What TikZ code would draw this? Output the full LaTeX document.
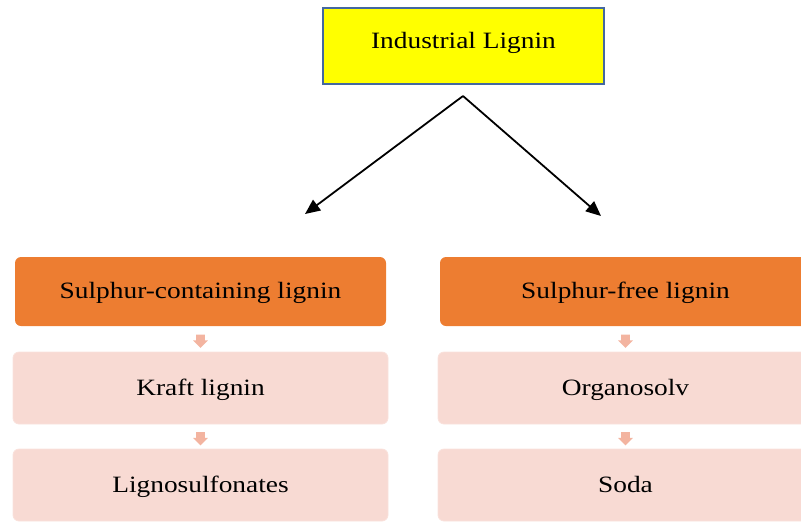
\documentclass[tikz,border=0pt]{standalone}
\usepackage{fontspec}
\setmainfont{Liberation Serif}[FakeStretch=1.17]
\usepackage{xcolor}
\usetikzlibrary{
    shapes.arrows,
    arrows.meta,
    positioning,
    calc
}
\definecolor{lignyellow}{RGB}{255, 255, 0}
\definecolor{lignborder}{RGB}{68, 104, 160}
\definecolor{lignorange}{RGB}{237, 125, 49}
\definecolor{lignpink}{RGB}{248, 218, 211}
\definecolor{lignpinkedge}{RGB}{250, 226, 220}
\definecolor{lignarrow}{RGB}{243, 180, 160}

\begin{document}
\begin{tikzpicture}[x=0.5pt, y=-0.5pt,
                topbox/.style={draw=lignborder, line width=1pt, fill=lignyellow, minimum width=140.5pt, minimum height=38pt, align=center, text height=8pt, text depth=6pt, font=\fontsize{11.7}{14}\selectfont},
                mainbox/.style={fill=lignorange, rounded corners=3pt, minimum width=185.5pt, minimum height=34.5pt, align=center, text height=8pt, text depth=1pt, font=\fontsize{11.7}{14}\selectfont},
                subbox/.style={draw=lignpinkedge, fill=lignpink, rounded corners=3pt, minimum width=187.5pt, minimum height=36pt, align=center, text height=8pt, text depth=1pt, font=\fontsize{11.7}{14}\selectfont},
                blockarrow/.style={single arrow, fill=lignarrow, draw=none, shape border rotate=270, minimum height=6.5pt, inner sep=2pt, single arrow head extend=1.5pt},
                arrow/.style={-{Triangle[length=7.5pt, width=6.5pt]}, line width=0.9pt}
            ]
                \useasboundingbox (0,0) rectangle (801,521);
                \clip (0,0) rectangle (801,521);

                % Top
                \node[topbox] (ind) at (463.5, 46) {Industrial Lignin};
                \coordinate (split) at (463, 96);
                \coordinate (leftend) at (305, 214);
                \coordinate (rightend) at (601, 216);

                \draw[arrow] (split) -- (leftend);
                \draw[arrow] (split) -- (rightend);

                % Left column
                \node[mainbox] (scont) at (200.5, 291.5) {Sulphur-containing lignin};
                \node[subbox] (kraft) at (200.5, 388) {Kraft lignin};
                \node[subbox] (lsulf) at (200.5, 485) {Lignosulfonates};

                % Right column
                \node[mainbox] (sfree) at (625.5, 291.5) {Sulphur-free lignin};
                \node[subbox] (orgs) at (625.5, 388) {Organosolv};
                \node[subbox] (soda) at (625.5, 485) {Soda};

                % Small arrows
                \node[blockarrow] (a1) at ($(scont.south)!0.5!(kraft.north)$) {};
                \node[blockarrow] (a2) at ($(kraft.south)!0.5!(lsulf.north)$) {};
                \node[blockarrow] (a3) at ($(sfree.south)!0.5!(orgs.north)$) {};
                \node[blockarrow] (a4) at ($(orgs.south)!0.5!(soda.north)$) {};
            \end{tikzpicture}
\end{document}
